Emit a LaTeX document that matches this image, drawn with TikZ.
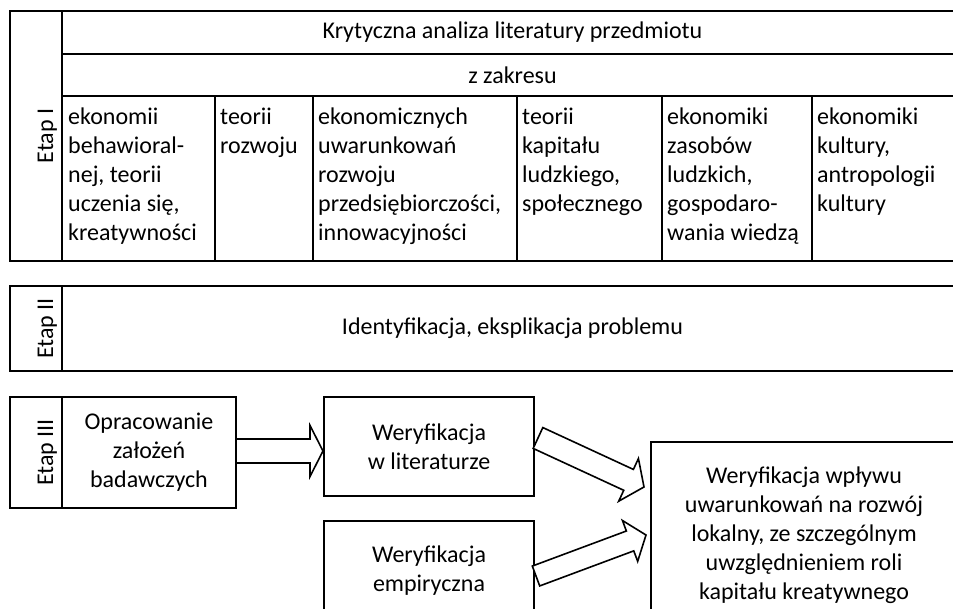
\documentclass[tikz,border=0pt]{standalone}
\usepackage{fontspec}
\setmainfont{Carlito}
\usetikzlibrary{calc}
\frenchspacing

% block arrow: #1 tail, #2 tip, #3 half shaft width, #4 half head width, #5 head length (pt)
\newcommand\blockarrow[5]{%
  \pgfpointdiff{\pgfpointanchor{#1}{center}}{\pgfpointanchor{#2}{center}}%
  \pgfgetlastxy{\bax}{\bay}%
  \pgfmathsetmacro\baang{atan2(\bay,\bax)}%
  \pgfmathsetmacro\balen{veclen(\bax,\bay)}%
  \draw[barrow, shift={(#1)}, rotate=\baang]
    (0pt,#3pt) -- ({(\balen-#5)*1pt},#3pt) -- ({(\balen-#5)*1pt},#4pt) -- ({\balen*1pt},0pt)
    -- ({(\balen-#5)*1pt},-#4pt) -- ({(\balen-#5)*1pt},-#3pt) -- (0pt,-#3pt) -- cycle;
}

\begin{document}
\begin{tikzpicture}[x=1pt,y=-1pt,
  txt/.style={font=\fontsize{24}{29}\selectfont},
  cell/.style={draw, line width=2pt, anchor=north west, inner sep=0pt, outer sep=0pt, txt},
  box/.style={draw, line width=1.6pt, anchor=north west, inner sep=0pt, outer sep=0pt,
    align=center, txt},
  celltext/.style={anchor=base west, inner sep=0pt, text width=200pt, align=flush left, txt},
  etap/.style={rotate=90, anchor=base, inner sep=0pt, txt},
  barrow/.style={draw, line width=1.6pt, fill=white, line join=miter}]
\useasboundingbox (0,0) rectangle (953,609);
\clip (0,0) rectangle (953,609);

% ---- Etap I: literature table ----
\node[cell, minimum width=52pt, minimum height=250pt] (e1) at (10,11) {};
\node[cell, minimum width=901pt, minimum height=43pt] (kryt) at (62,11)
  {Krytyczna analiza literatury przedmiotu};
\node[cell, minimum width=901pt, minimum height=42pt] (zakr) at (62,54) {z zakresu};
\node[cell, minimum width=153pt, minimum height=165pt] (c1) at (62,96) {};
\node[cell, minimum width=98pt, minimum height=165pt] (c2) at (215,96) {};
\node[cell, minimum width=204pt, minimum height=165pt] (c3) at (313,96) {};
\node[cell, minimum width=145pt, minimum height=165pt] (c4) at (517,96) {};
\node[cell, minimum width=150pt, minimum height=165pt] (c5) at (662,96) {};
\node[cell, minimum width=151pt, minimum height=165pt] (c6) at (812,96) {};

\node[celltext] (t1) at ($(c1.north west)+(6,29)$)
  {ekonomii\\behawioral-\\nej, teorii\\uczenia się,\\kreatywności};
\node[celltext] (t2) at ($(c2.north west)+(5,29)$) {teorii\\rozwoju};
\node[celltext] (t3) at ($(c3.north west)+(5,29)$)
  {ekonomicznych\\uwarunkowań\\rozwoju\\przedsiębiorczości,\\innowacyjności};
\node[celltext] (t4) at ($(c4.north west)+(5,29)$)
  {teorii\\kapitału\\ludzkiego,\\społecznego};
\node[celltext] (t5) at ($(c5.north west)+(5,29)$)
  {ekonomiki\\zasobów\\ludzkich,\\gospodaro-\\wania wiedzą};
\node[celltext] (t6) at ($(c6.north west)+(5,29)$)
  {ekonomiki\\kultury,\\antropologii\\kultury};
\node[etap] (l1) at (53,136) {Etap I};

% ---- Etap II ----
\node[cell, minimum width=52pt, minimum height=85pt] (e2) at (10,286) {};
\node[cell, minimum width=901pt, minimum height=85pt] (ident) at (62,286)
  {Identyfikacja, eksplikacja problemu};
\node[etap] (l2) at (53,328.5) {Etap II};

% ---- Etap III ----
\node[cell, minimum width=52pt, minimum height=111pt] (e3) at (10,397) {};
\node[box, line width=2pt, minimum width=174pt, minimum height=111pt]
  (opr) at (62,397) {Opracowanie\\założeń\\badawczych};
\node[etap] (l3) at (53,452.5) {Etap III};

\node[box, minimum width=210pt, minimum height=99pt] (lit) at (324,397)
  {Weryfikacja\\w literaturze};
\node[box, minimum width=210pt, minimum height=99pt] (emp) at (324,521)
  {Weryfikacja\\empiryczna};
\node[box, line width=2pt, minimum width=306pt, minimum height=186pt] (big) at (651,442)
  {Weryfikacja wpływu\\uwarunkowań na rozwój\\lokalny, ze szczególnym\\uwzględnieniem roli\\kapitału kreatywnego};

% ---- connectors ----
\coordinate (a1s) at ($(opr.east)+(0,-1.5)$);
\coordinate (a1e) at ($(lit.west |- a1s)+(-1,0)$);
\coordinate (a2s) at ($(lit.east)+(4,-8.5)$);
\coordinate (a2e) at ($(big.north west)+(-7,45)$);
\coordinate (a3s) at ($(emp.north east)+(2,55)$);
\coordinate (a3e) at ($(big.north west)+(-5,93)$);
\blockarrow{a1s}{a1e}{12}{25.5}{13}
\blockarrow{a2s}{a2e}{11.5}{23.5}{17}
\blockarrow{a3s}{a3e}{10.6}{21.8}{17}
\end{tikzpicture}
\end{document}
